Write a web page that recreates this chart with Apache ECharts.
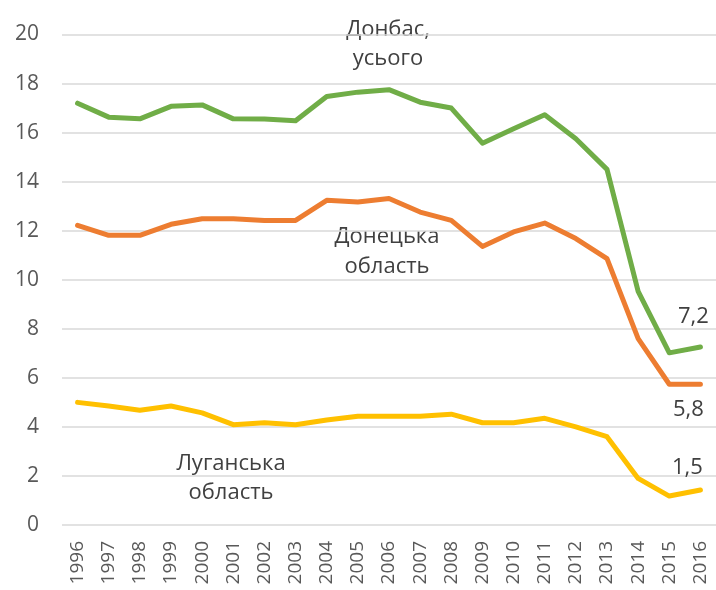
<!DOCTYPE html>
<html>
<head>
<meta charset="utf-8">
<script src="https://cdn.jsdelivr.net/npm/echarts@6/dist/echarts.min.js"></script>
<style>html,body{margin:0;padding:0;background:#fff}#c{width:716px;height:590px}</style>
</head>
<body>
<div id="c"></div>
<script>
var years = ['1996','1997','1998','1999','2000','2001','2002','2003','2004','2005','2006','2007','2008','2009','2010','2011','2012','2013','2014','2015','2016'];
var donbas = [17.2,16.63,16.56,17.07,17.13,16.56,16.55,16.48,17.47,17.65,17.75,17.24,17.0,15.57,16.16,16.73,15.75,14.5,9.53,7.02,7.26];
var donetsk = [12.22,11.81,11.81,12.26,12.49,12.49,12.42,12.42,13.24,13.17,13.31,12.76,12.42,11.36,11.95,12.31,11.68,10.86,7.6,5.74,5.74];
var luhansk = [5.0,4.85,4.68,4.85,4.57,4.09,4.17,4.09,4.28,4.43,4.43,4.43,4.52,4.17,4.17,4.35,4.0,3.6,1.9,1.18,1.43];
var seriesNames = ['Донбас, усього','Донецька область','Луганська область'];
var endLabels = ['7,2','5,8','1,5'];
var yTicks = [0,2,4,6,8,10,12,14,16,18,20];

var FONT = '"Open Sans", "Liberation Sans", sans-serif';
function withEndLabel(arr, text, offset) {
  return arr.map(function (v, i) {
    if (i === arr.length - 1) {
      return { value: v,
        label: { show: true, formatter: text, position: offset, align: 'center', verticalAlign: 'middle', fontSize: 22, color: '#404040', fontFamily: FONT } };
    }
    return v;
  });
}
function lineSeries(name, data, color, label, offset) {
  return {
    name: name, type: 'line', data: withEndLabel(data, label, offset),
    showSymbol: true, symbol: 'circle', symbolSize: 0, showAllSymbol: true,
    label: { show: false },
    labelLayout: { hideOverlap: false },
    lineStyle: { color: color, width: 5, cap: 'round', join: 'round' }, itemStyle: { color: color }
  };
}
var chart = echarts.init(document.getElementById('c'));
chart.setOption({
  animation: false,
  grid: { left: 62, top: 34.5, width: 657, height: 490.5, containLabel: false },
  xAxis: {
    type: 'category', data: years, boundaryGap: true,
    axisLine: { show: false }, axisTick: { show: false },
    axisLabel: { rotate: 90, fontSize: 19, color: '#595959', fontFamily: FONT, margin: 16, interval: 0 }
  },
  yAxis: {
    type: 'value', min: yTicks[0], max: yTicks[yTicks.length - 1], interval: 2,
    axisLine: { show: false }, axisTick: { show: false },
    splitLine: { lineStyle: { color: '#d9d9d9', width: 1.5 } },
    axisLabel: { fontSize: 21, color: '#595959', fontFamily: FONT, margin: 23 }
  },
  series: [
    lineSeries(seriesNames[0], donbas, '#70AD47', endLabels[0], [-7, -30]),
    lineSeries(seriesNames[1], donetsk, '#ED7D31', endLabels[1], [-12, 26]),
    lineSeries(seriesNames[2], luhansk, '#FFC000', endLabels[2], [-13, -22])
  ],
  graphic: [
    { type: 'text', x: 388, y: 15, style: { text: 'Донбас,\nусього', fontSize: 22, lineHeight: 29, fill: '#404040', fontFamily: FONT, align: 'center' } },
    { type: 'text', x: 387, y: 222, style: { text: 'Донецька\nобласть', fontSize: 22, lineHeight: 30, fill: '#404040', fontFamily: FONT, align: 'center' } },
    { type: 'text', x: 231, y: 449, style: { text: 'Луганська\nобласть', fontSize: 22, lineHeight: 29, fill: '#404040', fontFamily: FONT, align: 'center' } }
  ]
});
</script>
</body>
</html>
